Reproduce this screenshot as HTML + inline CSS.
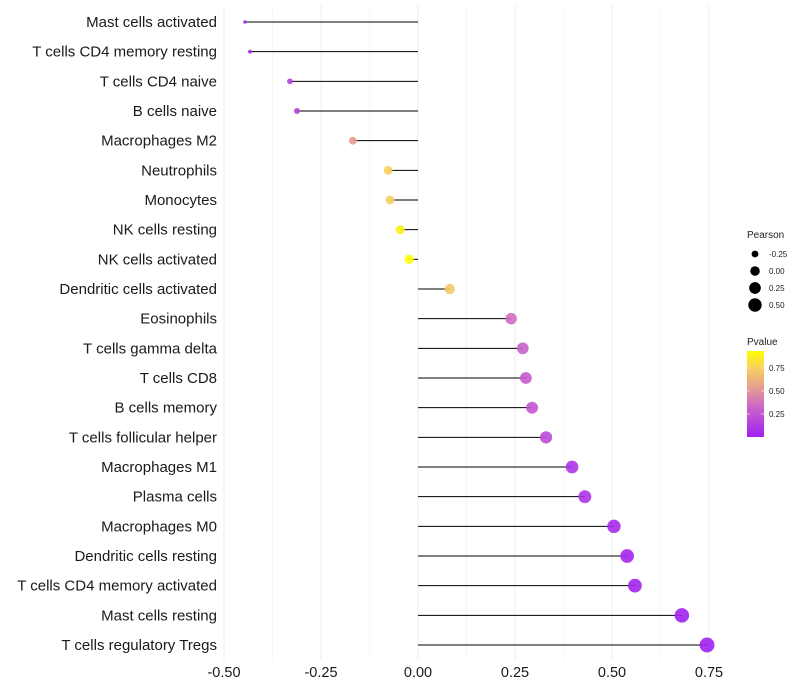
<!DOCTYPE html>
<html><head><meta charset="utf-8"><style>
body{margin:0;background:#fff;font-family:"Liberation Sans",sans-serif}
svg{display:block}
</style></head><body>
<svg id="chart" width="800" height="700" font-family="Liberation Sans, sans-serif"></svg>
<script>
const categories=["Mast cells activated","T cells CD4 memory resting","T cells CD4 naive","B cells naive","Macrophages M2","Neutrophils","Monocytes","NK cells resting","NK cells activated","Dendritic cells activated","Eosinophils","T cells gamma delta","T cells CD8","B cells memory","T cells follicular helper","Macrophages M1","Plasma cells","Macrophages M0","Dendritic cells resting","T cells CD4 memory activated","Mast cells resting","T cells regulatory  Tregs"];
const pearson=[-0.446,-0.433,-0.33,-0.312,-0.168,-0.077,-0.072,-0.046,-0.023,0.082,0.24,0.27,0.278,0.294,0.33,0.397,0.43,0.505,0.539,0.559,0.68,0.745];
const pvalues=[0.04,0.05,0.16,0.17,0.55,0.75,0.75,0.88,0.93,0.72,0.35,0.3,0.28,0.25,0.2,0.1,0.1,0.05,0.03,0.03,0.01,0.005];
const xTicks=[-0.5,-0.25,0,0.25,0.5,0.75];
const xTickLabels=["-0.50","-0.25","0.00","0.25","0.50","0.75"];
const sizeLegend=[-0.25,0,0.25,0.5];
const sizeLegendLabels=["-0.25","0.00","0.25","0.50"];
const colorTicks=[0.25,0.5,0.75];

const NS="http://www.w3.org/2000/svg";
const svg=document.getElementById('chart');
function x(v){return 418+v*388;}
function y(i){return 22+i*(623/21);}
function r(v){return Math.sqrt(Math.max(2.5,22.8+44*v));}
const stops=[[0,[160,32,240]],[0.35,[204,102,200]],[0.6,[233,163,138]],[0.8,[246,208,96]],[1,[255,255,0]]];
function col(p){p=Math.max(0,Math.min(1,p/0.935));for(let k=0;k<stops.length-1;k++){const a=stops[k],b=stops[k+1];if(p<=b[0]){const t=(p-a[0])/(b[0]-a[0]);return 'rgb('+a[1].map((c,j)=>Math.round(c+(b[1][j]-c)*t)).join(',')+')';}}return 'rgb(255,255,0)';}
function mk(tag,attrs,parent){const e=document.createElementNS(NS,tag);for(const k in attrs)e.setAttribute(k,attrs[k]);(parent||svg).appendChild(e);return e;}

// grid
for(let k=0;k<xTicks.length;k++){
  const g=mk('line',{x1:x(xTicks[k]),x2:x(xTicks[k]),y1:5,y2:660,stroke:'#ededed','stroke-width':1});
  
  
  if(k<xTicks.length-1){const mv=(xTicks[k]+xTicks[k+1])/2;
    const m=mk('line',{x1:x(mv),x2:x(mv),y1:5,y2:660,stroke:'#f7f7f7','stroke-width':1});
    
    }
  const t=mk('text',{x:x(xTicks[k]),y:677,'text-anchor':'middle','font-size':14.5,fill:'#1a1a1a'});
  t.textContent=xTickLabels[k];
  
  
}
categories.forEach((c,i)=>{
  const t=mk('text',{x:217,y:y(i)+5,'text-anchor':'end','font-size':15,fill:'#1a1a1a'});
  t.textContent=c;
  
  
  const s=mk('line',{x1:x(0),x2:x(pearson[i]),y1:y(i),y2:y(i),stroke:'#000','stroke-width':1});
  
  
  const d=mk('circle',{cx:x(pearson[i]),cy:y(i),r:r(pearson[i]),fill:col(pvalues[i]),'fill-opacity':0.9});
  
  
});
// size legend
const lt=mk('text',{x:747,y:238,'font-size':10,fill:'#222'});lt.textContent='Pearson';


sizeLegend.forEach((v,k)=>{
  const cy=254+k*17;
  const c=mk('circle',{cx:755,cy:cy,r:r(v),fill:'#000'});
  
  
  const t=mk('text',{x:769,y:cy+3,'font-size':8,fill:'#222'});t.textContent=sizeLegendLabels[k];
  
  
});
// color legend
const ct=mk('text',{x:747,y:345,'font-size':10,fill:'#222'});ct.textContent='Pvalue';


const defs=mk('defs',{});const gr=mk('linearGradient',{id:'pg',x1:0,y1:1,x2:0,y2:0},defs);
stops.forEach(s=>mk('stop',{offset:s[0],'stop-color':'rgb('+s[1].join(',')+')'},gr));
const bar=mk('rect',{x:747,y:351,width:17,height:86,fill:'url(#pg)'});


colorTicks.forEach(v=>{
  const cy=437-v*92;
  mk('line',{x1:747,x2:750,y1:cy,y2:cy,stroke:'#fff','stroke-opacity':0.6});
  mk('line',{x1:761,x2:764,y1:cy,y2:cy,stroke:'#fff','stroke-opacity':0.6});
  const t=mk('text',{x:769,y:cy+3,'font-size':8,fill:'#222'});t.textContent=v.toFixed(2);
  
  
});
</script>
</body></html>
